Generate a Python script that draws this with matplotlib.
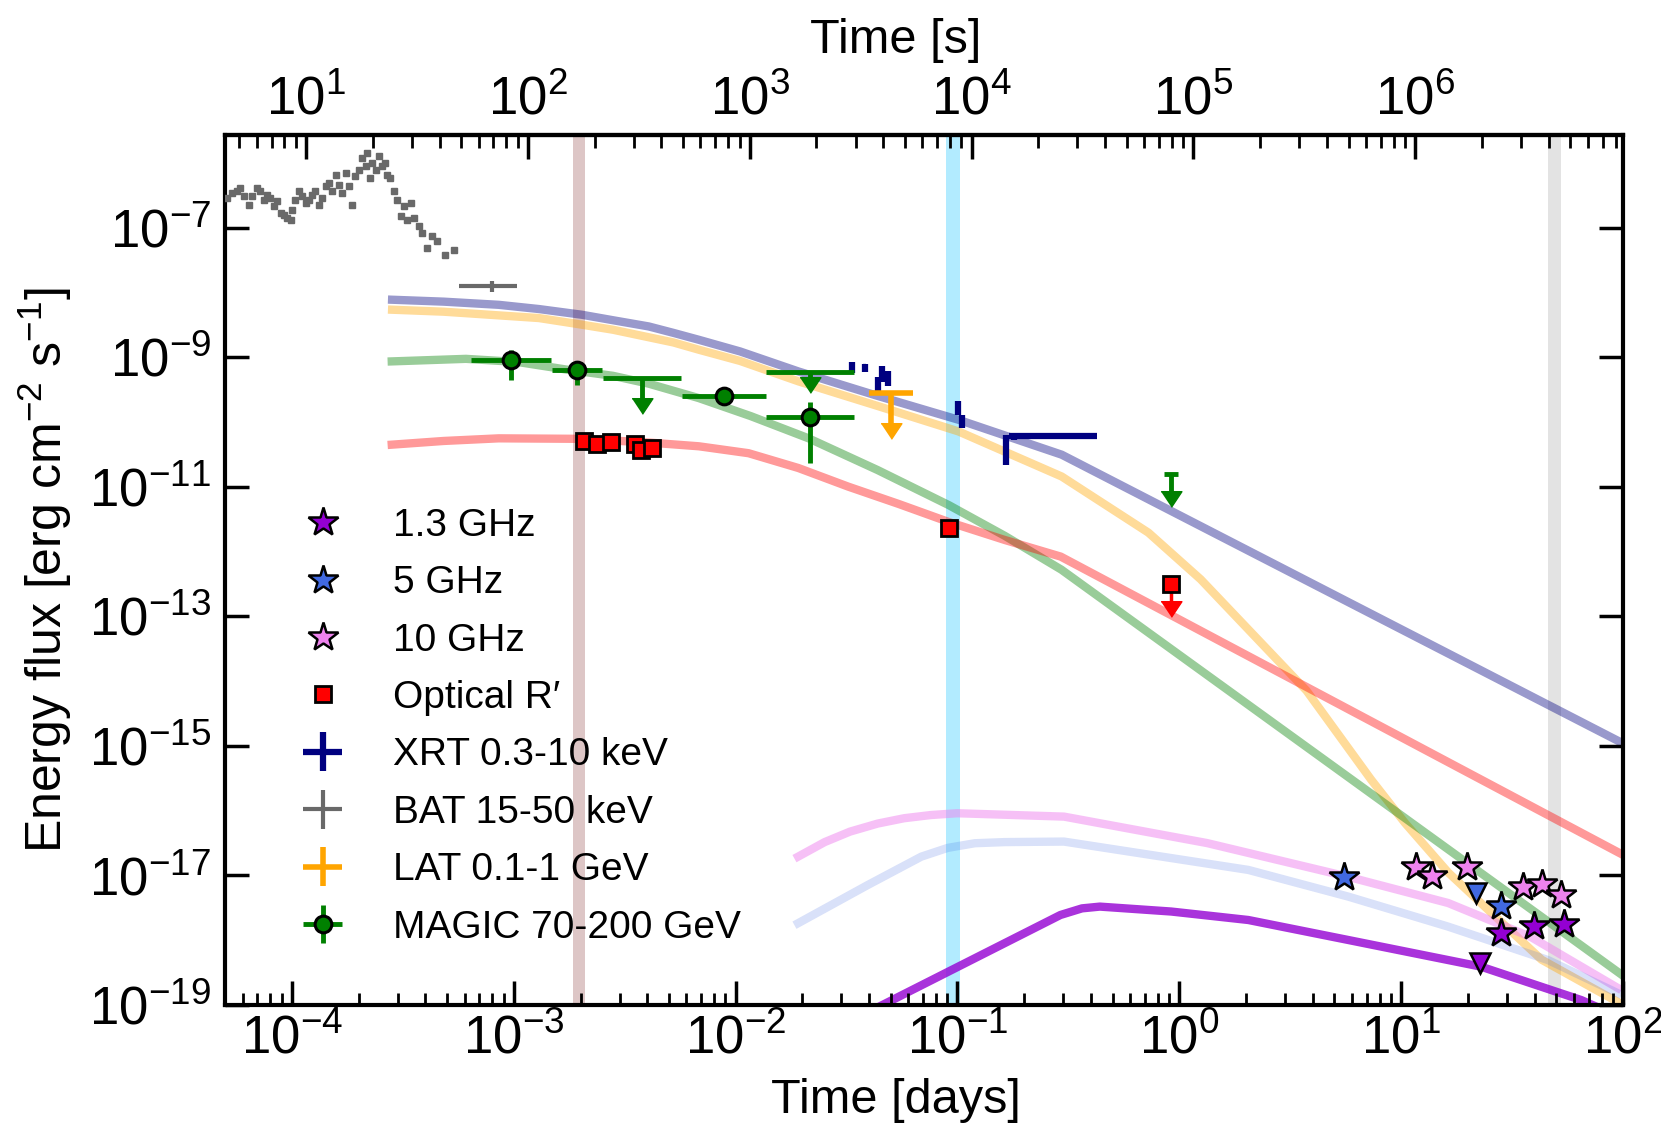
import numpy as np
import matplotlib.pyplot as plt
from matplotlib import font_manager
from matplotlib.ticker import (FixedLocator, LogLocator, LogFormatterSciNotation,
                               NullLocator, NullFormatter)

plt.rcParams['font.family'] = ['Liberation Sans', 'DejaVu Sans']
plt.rcParams['mathtext.fontset'] = 'custom'
plt.rcParams['mathtext.rm'] = 'Liberation Sans'
plt.rcParams['mathtext.it'] = 'Liberation Sans:italic'
plt.rcParams['mathtext.bf'] = 'Liberation Sans:bold'

# tick labels look condensed in the original
_names = {f.name for f in font_manager.fontManager.ttflist}
tick_font = 'Liberation Sans Narrow' if 'Liberation Sans Narrow' in _names else 'Liberation Sans'
tick_size = 38

DAY = 86400.

# ---------------- data ----------------
# BAT light curve (time in s, energy flux x 1e-7)
bat_lc_t = [4.42, 4.65, 4.90, 5.07, 5.25, 5.53, 5.73, 6.03, 6.24, 6.46, 6.69, 6.92,
            7.17, 7.42, 7.68, 7.95, 8.23, 8.52, 8.67, 8.97, 9.29, 9.62, 9.96, 10.3,
            10.7, 11.0, 11.4, 11.8, 12.3, 12.7, 13.1, 13.6, 14.1, 14.6, 15.1, 15.6,
            16.2, 16.7, 17.3, 17.9, 18.6, 18.9, 19.5, 19.9, 20.6, 21.3, 22.1, 22.8,
            23.2, 24.0, 24.9, 25.8, 26.7, 27.6, 28.6, 29.6, 30.6, 32.3, 33.4, 35.2,
            37.0, 39.0, 42.5, 46.4]
bat_lc_f = [2.87, 3.43, 3.64, 4.10, 3.05, 2.27, 3.05, 4.10, 3.64, 2.71, 3.23, 2.87,
            2.14, 2.55, 1.69, 1.59, 1.41, 1.33, 1.90, 2.71, 3.64, 3.05, 2.41, 2.71,
            3.23, 3.64, 2.27, 2.87, 4.35, 4.90, 3.64, 6.59, 4.61, 3.43, 6.99, 4.35,
            2.27, 6.21, 7.87, 11.9, 8.85, 14.2, 5.85, 9.97, 7.87, 12.6, 8.85, 9.97,
            6.59, 5.85, 3.64, 2.71, 1.50, 2.14, 1.33, 2.41, 1.41, 1.05, 0.828, 0.486,
            0.735, 0.615, 0.383, 0.457]

# BAT integrated (s)
bat_t, bat_tlo, bat_thi = [69.0], [48.9], [89.4]
bat_f, bat_flo, bat_fhi = [1.24e-8], [1.03e-8], [1.49e-8]

# XRT (days)
xrt_t   = [3.33e-2, 3.81e-2, 4.36e-2, 4.55e-2, 4.85e-2, 0.101, 0.1053, 0.166, 0.180]
xrt_tlo = [3.28e-2, 3.75e-2, 4.30e-2, 4.48e-2, 4.75e-2, 0.099, 0.103, 0.163, 0.170]
xrt_thi = [3.38e-2, 3.88e-2, 4.45e-2, 4.65e-2, 4.95e-2, 0.103, 0.107, 0.169, 0.424]
xrt_f   = [6.9e-10, 7.0e-10, 3.9e-10, 5.4e-10, 4.8e-10, 1.66e-10, 1.01e-10, 3.7e-11, 6.0e-11]
xrt_flo = [5.8e-10, 6.0e-10, 2.9e-10, 4.2e-10, 3.6e-10, 1.30e-10, 8.0e-11, 2.2e-11, 5.3e-11]
xrt_fhi = [8.5e-10, 8.0e-10, 5.0e-10, 7.2e-10, 6.2e-10, 2.10e-10, 1.30e-10, 6.3e-11, 6.8e-11]

# LAT upper limit (days)
lat_t, lat_tlo, lat_thi, lat_f = [5.01e-2], [4.0e-2], [6.27e-2], [2.80e-10]

# MAGIC (days)
magic_t   = [9.72e-4, 1.93e-3, 8.83e-3, 2.154e-2]
magic_tlo = [6.45e-4, 1.488e-3, 5.73e-3, 1.369e-2]
magic_thi = [1.479e-3, 2.50e-3, 1.369e-2, 3.40e-2]
magic_f   = [9.15e-10, 6.41e-10, 2.54e-10, 1.19e-10]
magic_flo = [4.50e-10, 3.76e-10, 2.10e-10, 2.32e-11]
magic_fhi = [1.31e-9, 8.61e-10, 2.90e-10, 2.07e-10]
magic_ul_t   = [3.79e-3, 2.154e-2, 0.92]
magic_ul_tlo = [2.52e-3, 1.369e-2, 0.85]
magic_ul_thi = [5.69e-3, 3.40e-2, 0.99]
magic_ul_f   = [4.77e-10, 5.98e-10, 1.56e-11]

# Optical R' (days)
opt_t = [2.07e-3, 2.37e-3, 2.74e-3, 3.53e-3, 3.75e-3, 4.20e-3, 9.20e-2]
opt_f = [5.01e-11, 4.61e-11, 4.83e-11, 4.61e-11, 3.73e-11, 3.96e-11, 2.30e-12]
opt_ul_t, opt_ul_f = [0.92], [3.21e-13]

# radio (days)
r13_t, r13_f = [28.3, 39.7, 54.2], [1.31e-18, 1.66e-18, 1.78e-18]
r13_ul_t, r13_ul_f = [22.6], [4.40e-19]
r5_t, r5_f = [5.54, 28.3], [9.37e-18, 3.38e-18]
r5_ul_t, r5_ul_f = [21.7], [5.31e-18]
r10_t = [11.7, 13.7, 19.7, 35.4, 43.2, 52.7]
r10_f = [1.34e-17, 9.82e-18, 1.34e-17, 6.58e-18, 7.40e-18, 5.00e-18]

# model curves (days, energy flux)
mod_xrt_t = [2.83e-4, 4.83e-4, 8.56e-4, 1.299e-3, 2.03e-3, 2.80e-3, 4.06e-3, 5.24e-3,
             6.83e-3, 1.048e-2, 1.921e-2, 4.37e-2, 0.1011, 0.295, 100]
mod_xrt_f = [7.73e-9, 7.22e-9, 6.45e-9, 5.55e-9, 4.53e-9, 3.73e-9, 2.99e-9, 2.38e-9,
             1.86e-9, 1.229e-9, 6.03e-10, 2.53e-10, 1.083e-10, 3.13e-11, 1.09e-15]
mod_lat_t = [2.83e-4, 4.83e-4, 1.299e-3, 2.03e-3, 2.80e-3, 5.24e-3, 6.83e-3, 1.048e-2,
             1.921e-2, 4.37e-2, 0.1011, 0.295, 0.725, 1.247, 3.74, 7.31, 10.40, 16.32,
             24.5, 42.9, 100]
mod_lat_f = [5.42e-9, 5.05e-9, 4.03e-9, 3.18e-9, 2.66e-9, 1.693e-9, 1.306e-9, 8.76e-10,
             4.24e-10, 1.767e-10, 7.15e-11, 1.44e-11, 1.96e-12, 3.73e-13, 7.14e-15,
             3.02e-16, 6.44e-17, 1.10e-17, 3.0e-18, 5.00e-19, 1.0e-19]
mod_opt_t = [2.82e-4, 4.83e-4, 8.56e-4, 2.015e-3, 4.07e-3, 6.83e-3, 1.144e-2, 1.918e-2,
             3.21e-2, 5.44e-2, 9.13e-2, 0.1633, 0.292, 100]
mod_opt_f = [4.47e-11, 5.10e-11, 5.60e-11, 5.50e-11, 4.82e-11, 4.22e-11, 3.30e-11,
             1.95e-11, 1.009e-11, 5.42e-12, 2.86e-12, 1.51e-12, 8.36e-13, 2.07e-17]
mod_magic_t = [2.82e-4, 6.09e-4, 1.043e-3, 1.71e-3, 2.80e-3, 4.07e-3, 6.83e-3, 1.169e-2,
               2.133e-2, 4.37e-2, 9.13e-2, 0.1633, 0.294, 100]
mod_magic_f = [8.63e-10, 9.45e-10, 8.44e-10, 6.49e-10, 5.17e-10, 3.90e-10, 2.34e-10,
               1.235e-10, 5.60e-11, 1.81e-11, 5.22e-12, 1.75e-12, 5.25e-13, 2.82e-19]
mod_r10_t = [1.913e-2, 2.52e-2, 3.28e-2, 4.37e-2, 5.75e-2, 7.57e-2, 9.97e-2, 0.302,
             1.332, 5.77, 16.27, 38.4, 94.6]
mod_r10_f = [1.95e-17, 3.27e-17, 4.75e-17, 6.32e-17, 7.64e-17, 8.55e-17, 9.12e-17,
             8.09e-17, 3.16e-17, 9.51e-18, 3.75e-18, 1.12e-18, 1.83e-19]
mod_r5_t = [1.913e-2, 3.94e-2, 6.87e-2, 9.03e-2, 0.1197, 0.1633, 0.302, 2.045, 5.77,
            16.27, 45.8, 94.6]
mod_r5_f = [1.83e-18, 7.11e-18, 1.95e-17, 2.66e-17, 3.14e-17, 3.27e-17, 3.33e-17,
            1.216e-17, 4.71e-18, 1.62e-18, 4.94e-19, 1.52e-19]
mod_r13_t = [4.37e-2, 0.291, 0.364, 0.438, 0.919, 2.045, 5.77, 22.9, 64.8, 95.7]
mod_r13_f = [9.18e-20, 2.45e-18, 3.10e-18, 3.30e-18, 2.77e-18, 2.05e-18, 1.007e-18,
             3.90e-19, 1.19e-19, 6.6e-20]

# ---------------- plot ----------------
fig = plt.figure(figsize=(16.61, 11.25), dpi=100)
ax = fig.add_axes([0.1355, 0.1067, 0.8417, 0.7733])
ax.set_xscale('log')
ax.set_yscale('log')

# shaded epochs
ax.axvspan(1.85e-3, 2.10e-3, color='rosybrown', alpha=0.5, lw=0, zorder=0)
ax.axvspan(0.0886, 0.1026, color='deepskyblue', alpha=0.3, lw=0, zorder=0)
ax.axvspan(45.8, 52.4, color='#e3e3e3', lw=0, zorder=0)

# models
mlw = 6
ax.plot(mod_xrt_t, mod_xrt_f, color='navy', alpha=0.4, lw=mlw, zorder=1)
ax.plot(mod_lat_t, mod_lat_f, color='orange', alpha=0.4, lw=mlw, zorder=1)
ax.plot(mod_magic_t, mod_magic_f, color='green', alpha=0.4, lw=mlw, zorder=1)
ax.plot(mod_opt_t, mod_opt_f, color='red', alpha=0.4, lw=mlw, zorder=1)
ax.plot(mod_r10_t, mod_r10_f, color='violet', alpha=0.5, lw=mlw, zorder=1)
ax.plot(mod_r5_t, mod_r5_f, color='royalblue', alpha=0.2, lw=mlw, zorder=1)
ax.plot(mod_r13_t, mod_r13_f, color='darkviolet', alpha=0.8, lw=mlw, zorder=1)

arrowhead = [(-1, 0.75), (1, 0.75), (0, -0.75)]

# BAT
ax.plot(np.array(bat_lc_t) / DAY, np.array(bat_lc_f) * 1e-7, 's', color='dimgray',
        ms=4, zorder=3)
bt = np.array(bat_t) / DAY
h_bat = ax.errorbar(bt, bat_f,
                    xerr=[bt - np.array(bat_tlo) / DAY, np.array(bat_thi) / DAY - bt],
                    yerr=[np.array(bat_f) - bat_flo, np.array(bat_fhi) - bat_f],
                    fmt='none', ecolor='dimgray', elinewidth=3, capsize=0, zorder=3)

# XRT
xt, xf = np.array(xrt_t), np.array(xrt_f)
h_xrt = ax.errorbar(xt, xf, xerr=[xt - xrt_tlo, np.array(xrt_thi) - xt],
                    yerr=[xf - xrt_flo, np.array(xrt_fhi) - xf],
                    fmt='none', ecolor='navy', elinewidth=4.5, capsize=0, zorder=4)

# LAT upper limit
lt_, lf_ = np.array(lat_t), np.array(lat_f)
h_lat = ax.errorbar(lt_, lf_, xerr=[lt_ - lat_tlo, np.array(lat_thi) - lt_],
                    yerr=[lf_ - lf_ / 3.9, 0 * lf_], fmt='none', ecolor='orange',
                    elinewidth=4, capsize=0, zorder=4)
ax.plot(lt_, lf_ / 3.9, marker=arrowhead, color='orange', ms=15, ls='none', zorder=4)

# MAGIC
mt, mf = np.array(magic_t), np.array(magic_f)
h_magic = ax.errorbar(mt, mf, xerr=[mt - magic_tlo, np.array(magic_thi) - mt],
                      yerr=[mf - magic_flo, np.array(magic_fhi) - mf],
                      fmt='o', color='green', mfc='green', mec='black', mew=2.2, ms=12,
                      elinewidth=3.5, capsize=0, zorder=5)
mut, muf = np.array(magic_ul_t), np.array(magic_ul_f)
mfac = np.array([2.7, 1.6, 2.4])
ax.errorbar(mut, muf, xerr=[mut - magic_ul_tlo, np.array(magic_ul_thi) - mut],
            yerr=[muf - muf / mfac, 0 * muf], fmt='none', ecolor='green',
            elinewidth=3.5, capsize=0, zorder=5)
ax.plot(mut, muf / mfac, marker=arrowhead, color='green', ms=15, ls='none', zorder=5)

# optical
h_opt, = ax.plot(opt_t, opt_f, 's', mfc='red', mec='black', mew=2, ms=11.5, zorder=6)
out, ouf = np.array(opt_ul_t), np.array(opt_ul_f)
ax.errorbar(out, ouf, yerr=[ouf - ouf / 2.5, 0 * ouf], fmt='none', ecolor='red',
            elinewidth=2.5, capsize=0, zorder=5)
ax.plot(out, ouf / 2.5, marker=arrowhead, color='red', ms=15, ls='none', zorder=5)
ax.plot(out, ouf, 's', mfc='red', mec='black', mew=2, ms=11.5, zorder=6)

# radio
star = dict(marker='*', ms=22, mec='black', mew=1.8, ls='none', zorder=7)
tri = dict(marker='v', ms=15, mec='black', mew=1.8, ls='none', zorder=7)
ax.plot(r13_ul_t, r13_ul_f, mfc='darkviolet', **tri)
ax.plot(r5_ul_t, r5_ul_f, mfc='royalblue', **tri)
h_r10, = ax.plot(r10_t, r10_f, mfc='violet', **star)
h_r5, = ax.plot(r5_t, r5_f, mfc='royalblue', **star)
h_r13, = ax.plot(r13_t, r13_f, mfc='darkviolet', **star)

# axes
ax.set_xlim(5e-5, 1e2)
ax.set_ylim(1e-19, 2.7e-6)

ax.xaxis.set_major_locator(LogLocator(base=10, numticks=20))
ax.xaxis.set_minor_locator(LogLocator(base=10, subs=np.arange(2, 10), numticks=20))
ax.xaxis.set_minor_formatter(NullFormatter())
ax.yaxis.set_major_locator(FixedLocator([10.0 ** e for e in range(-19, -6, 2)]))
ax.yaxis.set_major_formatter(LogFormatterSciNotation())
ax.yaxis.set_minor_locator(NullLocator())

ax.tick_params(which='both', direction='in', top=False, right=True)
ax.tick_params(which='major', length=17, width=2.5, labelsize=tick_size,
               labelfontfamily=tick_font)
ax.tick_params(which='minor', length=9, width=2)
ax.tick_params(axis='x', which='major', pad=7)
ax.tick_params(axis='y', which='major', pad=10)
for s in ax.spines.values():
    s.set_linewidth(3)

secax = ax.secondary_xaxis('top', functions=(lambda d: d * DAY, lambda s: s / DAY))
secax.xaxis.set_major_locator(LogLocator(base=10, numticks=20))
secax.xaxis.set_minor_locator(LogLocator(base=10, subs=np.arange(2, 10), numticks=20))
secax.xaxis.set_minor_formatter(NullFormatter())
secax.tick_params(which='both', direction='in')
secax.tick_params(which='major', length=17, width=2.5, labelsize=tick_size, pad=7,
                  labelfontfamily=tick_font)
secax.tick_params(which='minor', length=9, width=2)
secax.spines['top'].set_linewidth(3)
secax.set_xlabel('Time [s]', fontsize=35)
secax.xaxis.set_label_coords(0.48, 1.094, transform=ax.transAxes)

ax.set_xlabel('Time [days]', fontsize=35)
ax.xaxis.set_label_coords(0.48, -0.084)
ax.set_ylabel(r'Energy flux [erg cm$^{-2}$ s$^{-1}$]', fontsize=36)
ax.yaxis.set_label_coords(-0.108, 0.5)

handles = [h_r13, h_r5, h_r10, h_opt, h_xrt, h_bat, h_lat, h_magic]
labels = ['1.3 GHz', '5 GHz', '10 GHz', 'Optical R\u2032', 'XRT 0.3-10 keV',
          'BAT 15-50 keV', 'LAT 0.1-1 GeV', 'MAGIC 70-200 GeV']
ax.legend(handles, labels, loc='lower left', bbox_to_anchor=(0.017, 0.028),
          frameon=False, fontsize=28, labelspacing=0.55, handlelength=2,
          handletextpad=0.8, borderpad=0.4)

fig.savefig('out.png', dpi=100)
